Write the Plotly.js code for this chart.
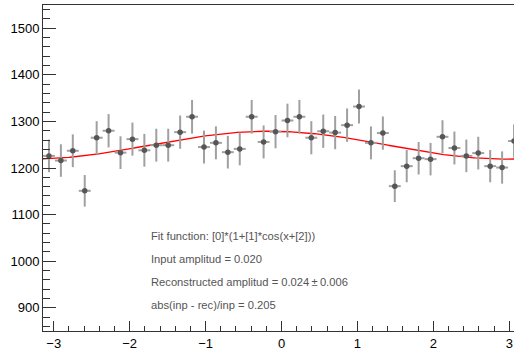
<!DOCTYPE html>
<html>
<head>
<meta charset="utf-8">
<script src="https://cdn.plot.ly/plotly-3.0.1.min.js"></script>
<style>
  html, body { margin: 0; padding: 0; overflow: hidden; background: #fff; }
  #plot { width: 520px; height: 351px; }
</style>
</head>
<body>
<div id="plot"></div>
<script>
// Histogram of the azimuthal distribution: 40 bins over [-pi, pi]
const nBins = 40;
const xMin = -Math.PI;
const xMax = Math.PI;

const binCounts = [
  1226, 1216, 1237, 1151, 1265, 1280, 1233, 1262, 1238, 1249,
  1249, 1277, 1310, 1245, 1254, 1234, 1241, 1310, 1256, 1278,
  1302, 1310, 1265, 1279, 1276, 1292, 1332, 1254, 1275, 1161,
  1204, 1221, 1219, 1267, 1243, 1226, 1232, 1204, 1201, 1258
];
const binErrors = [
  35.0, 34.9, 35.2, 33.9, 35.6, 35.8, 35.1, 35.5, 35.2, 35.3,
  35.3, 35.7, 36.2, 35.3, 35.4, 35.1, 35.2, 36.2, 35.4, 35.7,
  36.1, 36.2, 35.6, 35.8, 35.7, 35.9, 36.5, 35.4, 35.7, 34.1,
  34.7, 34.9, 34.9, 35.6, 35.3, 35.0, 35.1, 34.7, 34.7, 35.5
];

// Fit result for [0]*(1+[1]*cos(x+[2]))
const fitP0 = 1249;
const fitP1 = 0.024;
const fitP2 = 0.17;

const xTickVals = [-3, -2, -1, 0, 1, 2, 3];
const yTickVals = [900, 1000, 1100, 1200, 1300, 1400, 1500];

const infoLines = [
  "Fit function: [0]*(1+[1]*cos(x+[2]))",
  "Input amplitud = 0.020",
  "Reconstructed amplitud = 0.024\u2009±\u20090.006",
  "abs(inp - rec)/inp = 0.205"
];
const infoY = [1054, 1005, 955, 906];

const binWidth = (xMax - xMin) / nBins;
const binCenters = binCounts.map((_, i) => xMin + (i + 0.5) * binWidth);

// Smooth curve for the fitted function
const fitX = [];
const fitY = [];
for (let i = 0; i <= 300; i++) {
  const x = xMin + (xMax - xMin) * i / 300;
  fitX.push(x);
  fitY.push(fitP0 * (1 + fitP1 * Math.cos(x + fitP2)));
}

const histTrace = {
  x: binCenters,
  y: binCounts,
  type: 'scatter',
  mode: 'markers',
  marker: { color: '#565656', size: 5.5 },
  error_x: { type: 'constant', value: binWidth / 2, width: 0, thickness: 2, color: '#a0a0a0' },
  error_y: { type: 'data', array: binErrors, width: 0, thickness: 2, color: '#a0a0a0' },
  hoverinfo: 'x+y'
};

const fitTrace = {
  x: fitX,
  y: fitY,
  type: 'scatter',
  mode: 'lines',
  line: { color: '#ff0000', width: 1.3 },
  hoverinfo: 'skip'
};

const annotations = infoLines.map((t, i) => ({
  x: -1.74, y: infoY[i], xref: 'x', yref: 'y',
  text: t, showarrow: false, xanchor: 'left', yanchor: 'middle',
  font: { family: 'Liberation Sans, Arial, sans-serif', size: 11.2, color: '#555' }
}));

const tickFont = { family: 'Liberation Sans, Arial, sans-serif', size: 13, color: '#000' };

const layout = {
  width: 520,
  height: 351,
  margin: { l: 43, r: 0, t: 5, b: 20 },
  paper_bgcolor: '#fff',
  plot_bgcolor: '#fff',
  showlegend: false,
  xaxis: {
    range: [xMin, xMax],
    tickmode: 'array', tickvals: xTickVals,
    ticks: 'inside', ticklen: 10, tickwidth: 1, tickcolor: '#333',
    minor: { dtick: 0.2, ticks: 'inside', ticklen: 5, tickcolor: '#333', showgrid: false },
    showline: true, linecolor: '#333', linewidth: 1, mirror: true,
    showgrid: false, zeroline: false,
    tickfont: tickFont
  },
  yaxis: {
    range: [850, 1550],
    tickmode: 'array', tickvals: yTickVals,
    ticks: 'inside', ticklen: 13, tickwidth: 1, tickcolor: '#333',
    minor: { dtick: 20, ticks: 'inside', ticklen: 7, tickcolor: '#333', showgrid: false },
    showline: true, linecolor: '#333', linewidth: 1, mirror: true,
    showgrid: false, zeroline: false,
    tickfont: tickFont
  },
  annotations: annotations
};

Plotly.newPlot('plot', [fitTrace, histTrace], layout, { displayModeBar: false, staticPlot: true });
</script>
</body>
</html>
